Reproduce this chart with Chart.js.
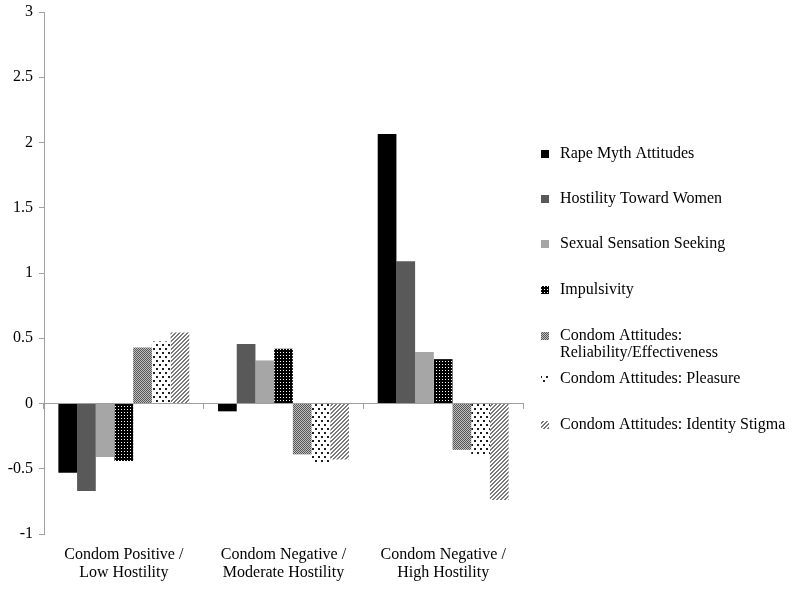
<!DOCTYPE html>
<html>
<head>
<meta charset="utf-8">
<script src="https://cdn.jsdelivr.net/npm/chart.js@4.4.0/dist/chart.umd.min.js"></script>
<style>
  html, body { margin: 0; padding: 0; background: #fff; }
  #wrap { width: 800px; height: 592px; }
</style>
</head>
<body>
<div id="wrap"><canvas id="chart" width="800" height="592"></canvas></div>
<script>
// categories
const groups = [
    ["Condom Positive /", "Low Hostility"],
    ["Condom Negative /", "Moderate Hostility"],
    ["Condom Negative /", "High Hostility"]
];

// series names (as shown in the legend)
const seriesNames = [
    ["Rape Myth Attitudes"],
    ["Hostility Toward Women"],
    ["Sexual Sensation Seeking"],
    ["Impulsivity"],
    ["Condom Attitudes:", "Reliability/Effectiveness"],
    ["Condom Attitudes: Pleasure"],
    ["Condom Attitudes: Identity Stigma"]
];

// values per series, one per group
const rapeMyth    = [-0.53, -0.06, 2.065];
const hostility   = [-0.67, 0.455, 1.09];
const sensation   = [-0.41, 0.33, 0.395];
const impulsivity = [-0.44, 0.42, 0.34];
const reliability = [0.43, -0.39, -0.355];
const pleasure    = [0.475, -0.46, -0.395];
const stigma      = [0.545, -0.43, -0.74];

const yTicks = { min: -1, max: 3, step: 0.5 };

// small pattern tiles, drawn pixel by pixel
function makePattern(w, h, bg, fg, pixels) {
    const c = document.createElement("canvas");
    c.width = w;
    c.height = h;
    const g = c.getContext("2d");
    g.fillStyle = bg;
    g.fillRect(0, 0, w, h);
    g.fillStyle = fg;
    pixels.forEach(p => g.fillRect(p[0], p[1], p[2] || 1, p[3] || 1));
    return g.createPattern(c, "repeat");
}

const ctx = document.getElementById("chart").getContext("2d");

const fills = [
    "#000000",
    "#595959",
    "#a6a6a6",
    makePattern(3, 3, "#000000", "#ffffff", [[1, 1]]),
    makePattern(2, 2, "#c0c0c0", "#555555", [[0, 0], [1, 1]]),
    makePattern(6, 8, "#ffffff", "#1e1e1e", [[0, 0, 2, 2], [3, 4, 2, 2]]),
    makePattern(4, 4, "#ffffff", "#7a7a7a", [[3, 0], [0, 0], [2, 1], [3, 1], [1, 2], [2, 2], [0, 3], [1, 3]])
];

const seriesValues = [rapeMyth, hostility, sensation, impulsivity, reliability, pleasure, stigma];

Chart.defaults.font.family = "'Liberation Serif', 'Times New Roman', serif";
Chart.defaults.font.size = 16;
Chart.defaults.color = "#000";

// legend drawn by hand so the two-line entry keeps the original spacing
const legendRows = [154, 199, 244, 290, 336, 379, 425];
const sideLegend = {
    id: "sideLegend",
    afterDraw(chart) {
        const c = chart.ctx;
        c.save();
        c.font = "16px 'Liberation Serif', 'Times New Roman', serif";
        c.textBaseline = "middle";
        c.textAlign = "left";
        chart.data.datasets.forEach((ds, i) => {
            const y = legendRows[i];
            c.fillStyle = ds.backgroundColor;
            c.fillRect(541, y - 4, 8, 8);
            c.fillStyle = "#000";
            seriesNames[i].forEach((line, k) => c.fillText(line, 560, y + k * 17));
        });
        c.restore();
    }
};

new Chart(ctx, {
    type: "bar",
    data: {
        labels: groups,
        datasets: seriesValues.map((vals, i) => ({
            label: seriesNames[i].join(" "),
            data: vals,
            backgroundColor: fills[i],
            borderWidth: 0,
            categoryPercentage: 0.82,
            barPercentage: 1.0
        }))
    },
    options: {
        responsive: false,
        animation: false,
        layout: { padding: { top: 12, right: 277, bottom: 0, left: 0 } },
        plugins: {
            legend: { display: false },
            tooltip: { enabled: false }
        },
        scales: {
            x: {
                position: "bottom",
                grid: { display: false, drawTicks: false },
                border: { display: false },
                ticks: { padding: 12, maxRotation: 0, font: { size: 16, lineHeight: 1.125 } },
                afterFit: s => { s.height = 58; }
            },
            x2: {
                type: "category",
                position: { y: 0 },
                grid: { offset: true, drawOnChartArea: false, tickLength: 5, color: "#a0a0a0" },
                border: { color: "#a0a0a0" },
                ticks: { display: false },
                afterFit: s => { s.height = 0; }
            },
            y: {
                min: yTicks.min,
                max: yTicks.max,
                ticks: {
                    stepSize: yTicks.step,
                    padding: 6,
                    callback: v => String(Number(v.toFixed(1)))
                },
                grid: { drawOnChartArea: false, tickLength: 5, color: "#a0a0a0" },
                border: { color: "#a0a0a0" },
                afterFit: s => {
                    s.width = 44;
                    s.paddingTop = 0;
                    s.paddingBottom = 0;
                }
            }
        }
    },
    plugins: [sideLegend]
});
</script>
</body>
</html>
